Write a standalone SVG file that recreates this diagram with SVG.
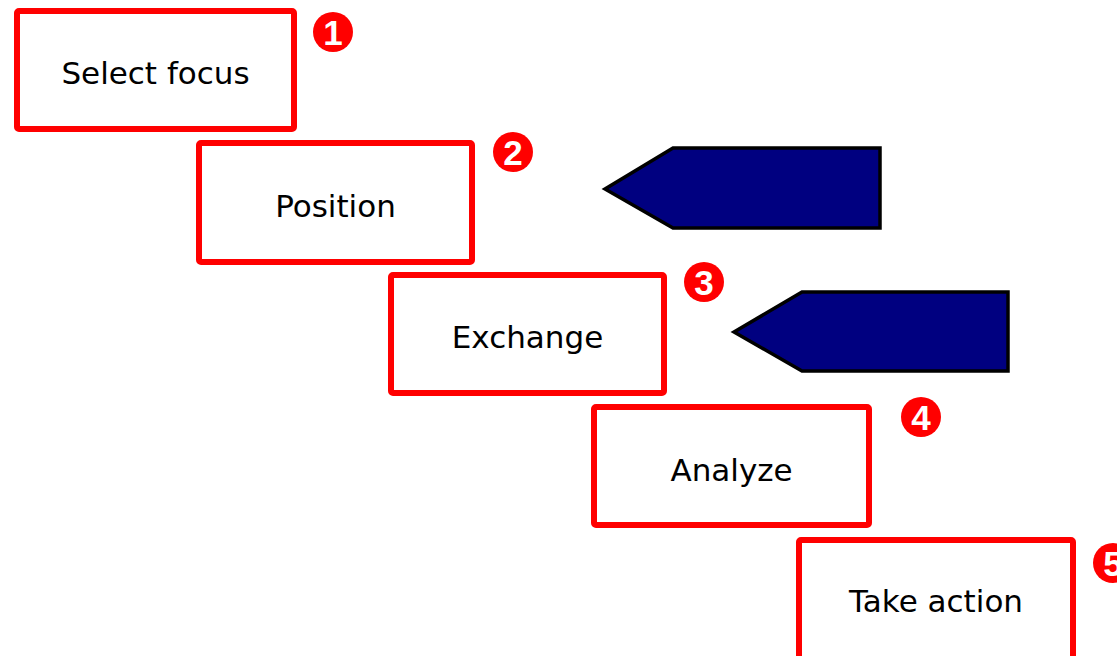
<svg xmlns="http://www.w3.org/2000/svg" width="1117" height="656" viewBox="0 0 1117 656">
<style>
.box{fill:#fff;stroke:#ff0000;stroke-width:6}
.lbl{font-family:"DejaVu Sans",sans-serif;font-size:31px;fill:#000;text-anchor:middle}
.num{fill:#ff0000}
.numt{font-family:"Liberation Sans",sans-serif;font-size:35px;font-weight:bold;fill:#fff;text-anchor:middle}
.arrow{fill:#000080;stroke:#000;stroke-width:3.5}
</style>
<rect width="1117" height="656" fill="#fff"/>
<g id="connectors">
<polygon class="arrow" points="880,148 673,148 605,189 673,228 880,228"/>
<polygon class="arrow" points="1008,292 802,292 734,332 802,371 1008,371"/>
</g>
<g id="n1">
<rect class="box" x="17" y="11" width="277" height="118" rx="2"/>
<text class="lbl" x="155.5" y="84">Select focus</text>
<circle class="num" cx="333" cy="32" r="20"/>
<text class="numt" x="333" y="44.5">1</text>
</g>
<g id="n2">
<rect class="box" x="199" y="143" width="273" height="119" rx="2"/>
<text class="lbl" x="335.5" y="217">Position</text>
<circle class="num" cx="513" cy="152" r="20"/>
<text class="numt" x="513" y="164.5">2</text>
</g>
<g id="n3">
<rect class="box" x="391" y="275" width="273" height="118" rx="2"/>
<text class="lbl" x="527.5" y="348">Exchange</text>
<circle class="num" cx="704" cy="282" r="20"/>
<text class="numt" x="704" y="294.5">3</text>
</g>
<g id="n4">
<rect class="box" x="594" y="407" width="275" height="118" rx="2"/>
<text class="lbl" x="731.5" y="481">Analyze</text>
<circle class="num" cx="921" cy="417" r="20"/>
<text class="numt" x="921" y="429.5">4</text>
</g>
<g id="n5">
<rect class="box" x="799" y="540" width="274" height="130" rx="2"/>
<text class="lbl" x="936" y="612">Take action</text>
<circle class="num" cx="1113" cy="563" r="20"/>
<text class="numt" x="1113" y="575.5">5</text>
</g>
</svg>
